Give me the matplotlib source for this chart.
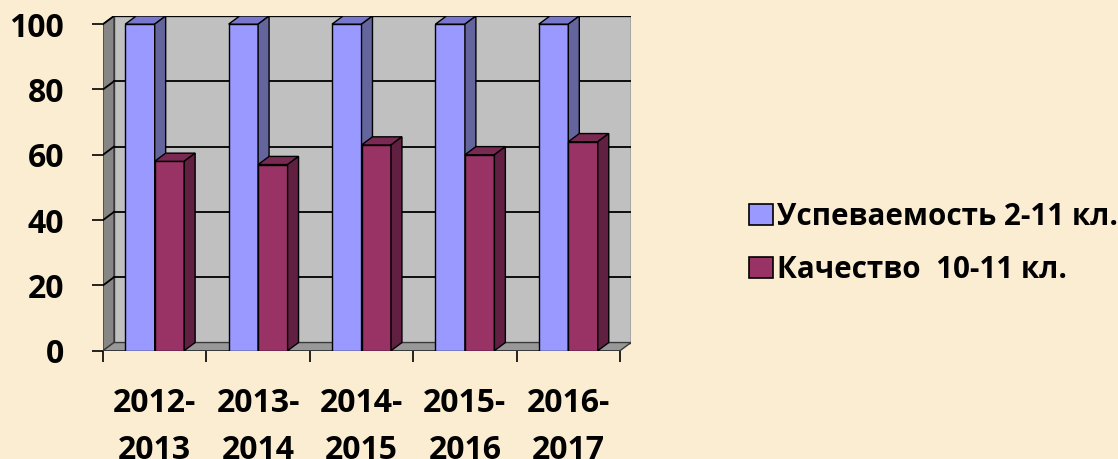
import numpy as np
import matplotlib
matplotlib.use("Agg")
import matplotlib.pyplot as plt
from matplotlib.patches import Polygon, Patch

# data
years   = ["2012-\n2013", "2013-\n2014", "2014-\n2015", "2015-\n2016", "2016-\n2017"]
uspev   = [100, 100, 100, 100, 100]   # Успеваемость 2-11 кл.
kachest = [58, 57, 63, 60, 64]        # Качество 10-11 кл.
yticks  = [0, 20, 40, 60, 80, 100]
labels  = ["Успеваемость 2-11 кл.", "Качество  10-11 кл."]

fonts = ["Open Sans", "DejaVu Sans"]
plt.rcParams["font.family"] = fonts

bg = "#FBEDD2"
blueCols = ("#9999FF", "#7777CC", "#65659E")   # front, top, side
redCols  = ("#993366", "#7A2952", "#611F42")

fig = plt.figure(figsize = (11.18, 4.59), dpi = 100)
fig.patch.set_facecolor(bg)

# 3d depth offsets, in data units
dx = 0.106
dy = 2.5
n  = len(years)

ax = fig.add_axes([103 / 1118, 1 - 350.7 / 459, 528 / 1118, 334.7 / 459])
ax.set_xlim(0, n + dx)
ax.set_ylim(0, 100 + dy)
ax.set_facecolor("none")
for s in ax.spines.values():
    s.set_visible(False)

# walls and floor
edge = "#3a3a3a"
ax.add_patch(Polygon([(dx, dy), (n + dx, dy), (n + dx, 100 + dy), (dx, 100 + dy)],
                     closed = True, facecolor = "#C0C0C0", edgecolor = edge, lw = 1, zorder = 1))
ax.add_patch(Polygon([(0, 0), (0, 100), (dx, 100 + dy), (dx, dy)],
                     closed = True, facecolor = "#868686", edgecolor = edge, lw = 1, zorder = 1))
ax.add_patch(Polygon([(0, 0), (n, 0), (n + dx, dy), (dx, dy)],
                     closed = True, facecolor = "#989898", edgecolor = edge, lw = 1, zorder = 1))

# gridlines on back wall and side wall
for v in yticks[1:]:
    ax.plot([dx, n + dx], [v + dy, v + dy], color = "black", lw = 1.3, zorder = 2)
    ax.plot([0, dx], [v, v + dy], color = "black", lw = 1.3, zorder = 2)

def bar3d(x0, w, h, cols):
    front, top, side = cols
    ax.add_patch(Polygon([(x0, 0), (x0 + w, 0), (x0 + w, h), (x0, h)],
                         closed = True, facecolor = front, edgecolor = "black", lw = 1, zorder = 3))
    ax.add_patch(Polygon([(x0, h), (x0 + w, h), (x0 + w + dx, h + dy), (x0 + dx, h + dy)],
                         closed = True, facecolor = top, edgecolor = "black", lw = 1, zorder = 3))
    ax.add_patch(Polygon([(x0 + w, 0), (x0 + w + dx, dy), (x0 + w + dx, h + dy), (x0 + w, h)],
                         closed = True, facecolor = side, edgecolor = "black", lw = 1, zorder = 3))

bw = 0.285
for i in range(n):
    start = i + 0.5 - bw
    bar3d(start, bw, uspev[i], blueCols)
    bar3d(start + bw, bw, kachest[i], redCols)

# axes ticks
ax.set_yticks(yticks)
ax.set_yticklabels([str(v) for v in yticks], fontsize = 23, fontweight = "bold")
ax.tick_params(axis = "y", direction = "out", length = 8, width = 1.2, pad = 20)

ax.set_xticks(np.arange(n + 1))
ax.set_xticklabels([""] * (n + 1))
ax.tick_params(axis = "x", which = "major", direction = "out", length = 8, width = 1.2)
ax.set_xticks(np.arange(n) + 0.5, minor = True)
ax.set_xticklabels(years, minor = True, fontsize = 23, fontweight = "bold", linespacing = 1.55)
ax.tick_params(axis = "x", which = "minor", length = 0, pad = 26)

handles = [Patch(facecolor = blueCols[0], edgecolor = "black", lw = 1.2),
           Patch(facecolor = redCols[0], edgecolor = "black", lw = 1.2)]
fig.legend(handles, labels, loc = "center left", bbox_to_anchor = (749 / 1118, 1 - 243.5 / 459),
           frameon = False, borderpad = 0, borderaxespad = 0,
           prop = {"family": fonts, "size": 21.3, "weight": "bold"},
           handlelength = 0.81, handleheight = 0.71, handletextpad = 0.15, labelspacing = 0.78)

fig.savefig("out.png", dpi = 100, facecolor = bg)
